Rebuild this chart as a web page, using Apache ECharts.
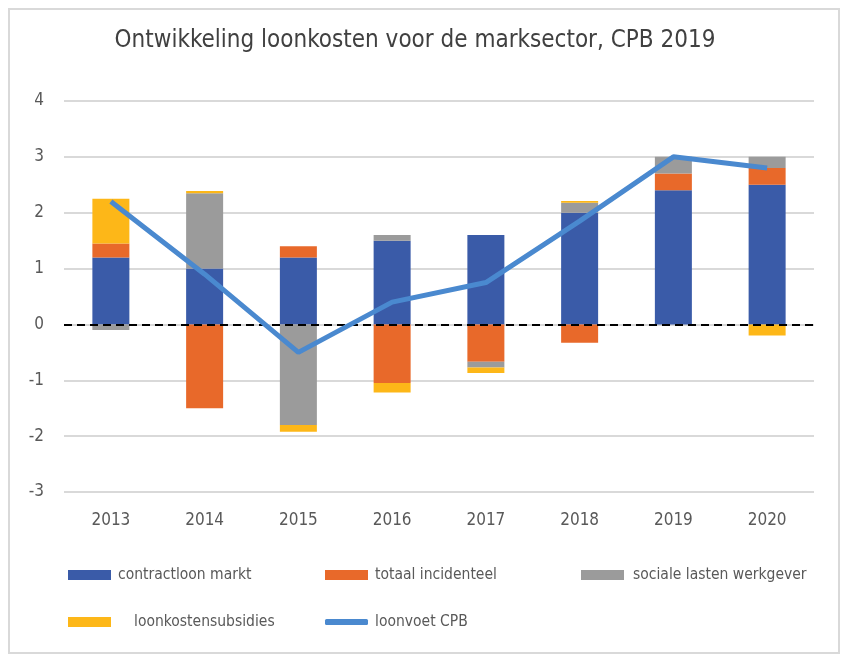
<!DOCTYPE html>
<html>
<head>
<meta charset="utf-8">
<script src="https://cdn.jsdelivr.net/npm/echarts@6/dist/echarts.min.js"></script>
<style>
html, body { margin: 0; padding: 0; background: #fff; }
#main { width: 843px; height: 657px; }
</style>
</head>
<body>
<div id="main"></div>
<script>
// jaren en componenten (procentpunten)
var years = ["2013", "2014", "2015", "2016", "2017", "2018", "2019", "2020"];
var contractloon = [1.2, 1.0, 1.2, 1.5, 1.6, 2.0, 2.4, 2.5];
var incidenteel = [0.25, -1.5, 0.2, -1.05, -0.67, -0.33, 0.3, 0.3];
var socialeLasten = [-0.1, 1.35, -1.8, 0.1, -0.1, 0.18, 0.3, 0.2];
var subsidies = [0.8, 0.04, -0.12, -0.17, -0.1, 0.03, 0, -0.2];
var loonvoet = [2.2, 0.9, -0.5, 0.4, 0.75, 1.85, 3.0, 2.8];

var names = ["contractloon markt", "totaal incidenteel", "sociale lasten werkgever", "loonkostensubsidies", "loonvoet CPB"];
var font = "'Liberation Sans Narrow', 'DejaVu Sans Condensed', sans-serif";

var myChart = echarts.init(document.getElementById('main'));

function legendItem(name, left, top, icon, pad) {
    return {
        data: [name],
        left: left,
        top: top,
        icon: icon,
        itemWidth: 43,
        itemHeight: icon === 'rect' ? 10 : 6,
        itemGap: 0,
        selectedMode: false,
        textStyle: { fontFamily: font, fontSize: 15.5, color: '#595959', padding: [0, 0, 0, pad] }
    };
}

var option = {
    animation: false,
    title: {
        text: 'Ontwikkeling loonkosten voor de marksector, CPB 2019',
        left: 410,
        textAlign: 'center',
        top: 24,
        textStyle: { fontFamily: font, fontSize: 24, fontWeight: 'normal', color: '#404040' }
    },
    graphic: [{
        type: 'rect',
        shape: { x: 9, y: 9, width: 830, height: 644 },
        style: { fill: 'none', stroke: '#d9d9d9', lineWidth: 2 },
        silent: true
    }],
    legend: [
        legendItem(names[0], 63, 562, 'rect', 2),
        legendItem(names[1], 320, 562, 'rect', 2),
        legendItem(names[2], 576, 562, 'rect', 4),
        legendItem(names[3], 63, 609, 'rect', 18),
        legendItem(names[4], 320, 609, 'roundRect', 2)
    ],
    grid: { left: 64, right: 29, top: 101, bottom: 165 },
    xAxis: {
        type: 'category',
        data: years,
        axisLine: { show: false },
        axisTick: { show: false },
        axisLabel: { fontFamily: font, fontSize: 17, color: '#595959', margin: 20 }
    },
    yAxis: {
        type: 'value',
        min: -3,
        max: 4,
        interval: 1,
        axisLabel: { fontFamily: font, fontSize: 17, color: '#595959', margin: 20 },
        splitLine: { lineStyle: { color: '#d9d9d9', width: 2 } }
    },
    series: [
        { name: names[0], type: 'bar', stack: 'loon', data: contractloon, barWidth: 37,
          itemStyle: { color: '#3a5ba8' } },
        { name: names[1], type: 'bar', stack: 'loon', data: incidenteel,
          itemStyle: { color: '#e8692a' } },
        { name: names[2], type: 'bar', stack: 'loon', data: socialeLasten,
          itemStyle: { color: '#9b9b9b' } },
        { name: names[3], type: 'bar', stack: 'loon', data: subsidies,
          itemStyle: { color: '#fdb718' },
          markLine: {
              silent: true,
              symbol: 'none',
              label: { show: false },
              lineStyle: { color: '#000', type: [8, 5], width: 2 },
              data: [{ yAxis: 0 }]
          } },
        { name: names[4], type: 'line', data: loonvoet, showSymbol: false, symbol: 'none',
          lineStyle: { color: '#4a89cf', width: 5 }, itemStyle: { color: '#4a89cf' }, z: 5 }
    ]
};

myChart.setOption(option);
</script>
</body>
</html>
